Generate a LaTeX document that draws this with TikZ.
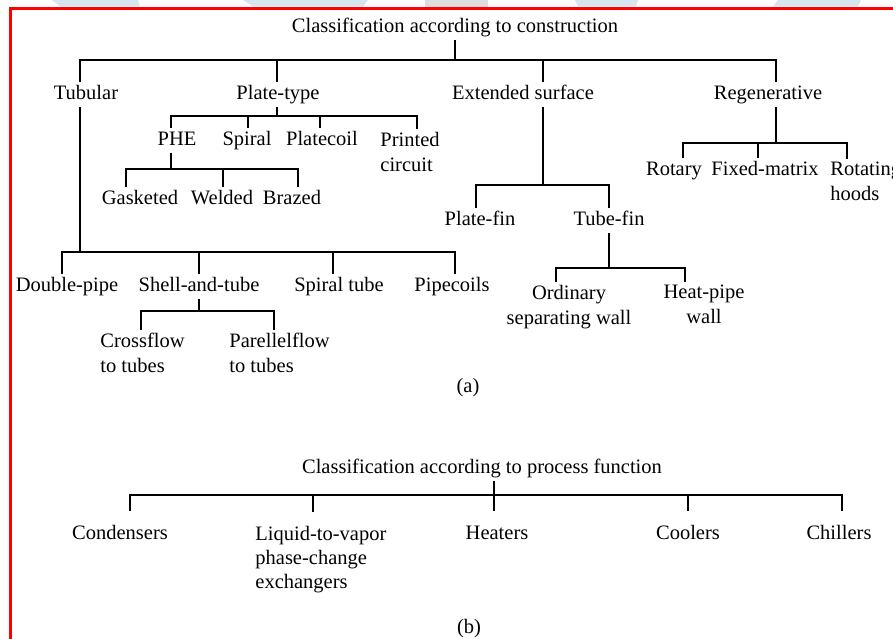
\documentclass[tikz,border=0pt]{standalone}
\usepackage{fontspec}
\setmainfont{Liberation Serif}
\definecolor{wmblue}{RGB}{213,230,240}
\definecolor{wmgray}{RGB}{221,221,221}
\definecolor{frame}{RGB}{255,0,0}
\begin{document}
\begin{tikzpicture}[x=0.5pt,y=-0.5pt,
    txt/.style={font=\fontsize{10.25}{12.5}\selectfont,inner sep=2pt},
    cls/.style={txt,text height=7.2pt,text depth=2.4pt,anchor=north},
    clsm/.style={txt,align=left,anchor=north west},
    fn/.style={cls,inner ysep=7.5pt},
    tree/.style={draw,line width=1.2pt,line cap=rect}]

    \useasboundingbox (0,0) rectangle (893,638);
    \fill[wmblue] (52,0) -- (138,0) -- (140,6.5) -- (60,6.5) -- cycle;
    \fill[wmblue] (243,0) -- (368,0) -- (363,6.5) -- (253,6.5) -- cycle;
    \fill[wmgray] (425,0) rectangle (488,6.5);
    \fill[wmblue] (575,0) -- (638,0) -- (636,6.5) -- (578,6.5) -- cycle;
    \fill[wmblue] (778,0) -- (861,0) -- (858,6.5) -- (773,6.5) -- cycle;
    \draw[frame,line width=1.75pt] (10.5,640) -- (10.5,8.7) -- (895,8.7);

    \node[cls] (consA) at (455,13.6) {Classification according to construction};
    \node[cls] (tub) at (86,80.6) {Tubular};
    \node[cls] (plate) at (278,80.6) {Plate-type};
    \node[cls] (ext) at (523,80.6) {Extended surface};
    \node[cls] (regen) at (768,80.6) {Regenerative};

    \node[cls] (phe) at (177,126.6) {PHE};
    \node[cls] (spiral) at (247,126.6) {Spiral};
    \node[cls] (platecoil) at (322,126.6) {Platecoil};
    \node[clsm] (printed) at (376,127.6) {Printed\\circuit};

    \node[cls] (gasket) at (140,185.6) {Gasketed};
    \node[cls] (welded) at (222,185.6) {Welded};
    \node[cls] (brazed) at (292,185.6) {Brazed};

    \node[cls] (platefin) at (480,206.6) {Plate-fin};
    \node[cls] (tubefin) at (609,206.6) {Tube-fin};
    \node[clsm,align=center,anchor=north] (ordinary) at (569,280.6) {Ordinary\\separating wall};
    \node[clsm,align=center,anchor=north] (heatpipe) at (704,280.6) {Heat-pipe\\wall};

    \node[cls] (rotary) at (674,156.6) {Rotary};
    \node[cls] (fixed) at (765,156.6) {Fixed-matrix};
    \node[clsm] (rotating) at (826,157.6) {Rotating\\hoods};

    \node[cls] (double) at (67,272.6) {Double-pipe};
    \node[cls] (shell) at (199,272.6) {Shell-and-tube};
    \node[cls] (spiraltube) at (339,272.6) {Spiral tube};
    \node[cls] (pipecoil) at (452,272.6) {Pipecoils};

    \node[clsm] (cross) at (96,328.6) {Crossflow\\to tubes};
    \node[clsm] (parallel) at (225,328.6) {Parellelflow\\to tubes};

    \node[cls] (capA) at (468,373.6) {(a)};

    \node[cls] (funcB) at (482,454.6) {Classification according to process function};
    \node[fn] (cond) at (120,509.6) {Condensers};
    \node[clsm,inner ysep=7.5pt,font=\fontsize{10.25}{12}\selectfont] (liquid) at (251,510.6) {Liquid-to-vapor\\phase-change\\exchangers};
    \node[fn] (heaters) at (497,509.6) {Heaters};
    \node[fn] (coolers) at (688,509.6) {Coolers};
    \node[fn] (chillers) at (839,509.6) {Chillers};
    \node[cls] (capB) at (469,614.6) {(b)};

    \foreach \j/\x/\y in {jtub/80/60,jplate/277/60,jext/543/60,jregen/776/60,
        kphe/171/116,kspiral/248/116,kcoil/320/116,kprint/417/116,
        mgask/126/169,mweld/223/169,mbraz/298/169,
        kpfin/476/185,ktfin/609/185,mord/556/268,mheat/685/268,
        krot/683/143,kfix/758/143,krotg/847/143,
        kdbl/62/252,kshell/199/252,kspt/333/252,kpipe/455/252,
        mcross/141/311,mpar/274/311,
        jcond/130/495,jliq/313/495,jheat/494/495,jcool/688/495,jchill/842/495}
        \coordinate (\j) at (\x,\y);

    \draw[tree] (consA.south) -- (consA.south |- jtub);
    \draw[tree] (jtub) -- (jregen);
    \foreach \j/\n in {jtub/tub,jplate/plate,jext/ext,jregen/regen}
        \draw[tree] (\j) -- (\j |- \n.north);

    \draw[tree] (jplate |- plate.south) -- (jplate |- kphe);
    \draw[tree] (kphe) -- (kprint);
    \foreach \j/\n in {kphe/phe,kspiral/spiral,kcoil/platecoil,kprint/printed}
        \draw[tree] (\j) -- (\j |- \n.north);

    \draw[tree] (kphe |- phe.south) -- (kphe |- mgask);
    \draw[tree] (mgask) -- (mbraz);
    \foreach \j/\n in {mgask/gasket,mweld/welded,mbraz/brazed}
        \draw[tree] (\j) -- (\j |- \n.north);

    \draw[tree] (jext |- ext.south) -- (jext |- kpfin);
    \draw[tree] (kpfin) -- (ktfin);
    \foreach \j/\n in {kpfin/platefin,ktfin/tubefin}
        \draw[tree] (\j) -- (\j |- \n.north);

    \draw[tree] (ktfin |- tubefin.south) -- (ktfin |- mord);
    \draw[tree] (mord) -- (mheat);
    \foreach \j/\n in {mord/ordinary,mheat/heatpipe}
        \draw[tree] (\j) -- (\j |- \n.north);

    \draw[tree] (jregen |- regen.south) -- (jregen |- krot);
    \draw[tree] (krot) -- (krotg);
    \foreach \j/\n in {krot/rotary,kfix/fixed,krotg/rotating}
        \draw[tree] (\j) -- (\j |- \n.north);

    \draw[tree] (jtub |- tub.south) -- (jtub |- kdbl);
    \draw[tree] (kdbl) -- (kpipe);
    \foreach \j/\n in {kdbl/double,kshell/shell,kspt/spiraltube,kpipe/pipecoil}
        \draw[tree] (\j) -- (\j |- \n.north);

    \draw[tree] (kshell |- shell.south) -- (kshell |- mcross);
    \draw[tree] (mcross) -- (mpar);
    \foreach \j/\n in {mcross/cross,mpar/parallel}
        \draw[tree] (\j) -- (\j |- \n.north);

    \draw[tree] (jheat |- funcB.south) -- (jheat |- heaters.north);
    \draw[tree] (jcond) -- (jchill);
    \foreach \j/\n in {jcond/cond,jliq/liquid,jcool/coolers,jchill/chillers}
        \draw[tree] (\j) -- (\j |- \n.north);

\end{tikzpicture}
\end{document}
